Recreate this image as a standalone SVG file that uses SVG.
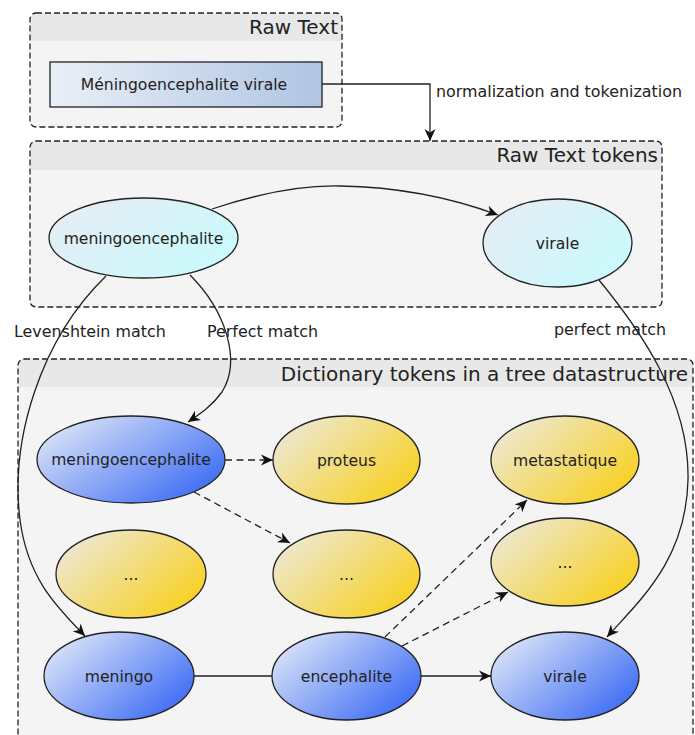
<svg xmlns="http://www.w3.org/2000/svg" width="695" height="735" viewBox="0 0 695 735">
<defs>
<style>
text{font-family:"DejaVu Sans","Liberation Sans",sans-serif;fill:#222;}
.lbl{font-size:15.9px;}
.ttl{font-size:20px;text-anchor:end;}
.nt{font-size:15.6px;text-anchor:middle;}
.box{fill:#f4f4f4;stroke:none;}
.hdr{fill:#e8e8e8;stroke:none;}
.frame{fill:none;stroke:#222;stroke-width:1.3;stroke-dasharray:6,3;}
.node{stroke:#222;stroke-width:1.3;}
.c{fill:none;stroke:#222;stroke-width:1.3;}
.d{fill:none;stroke:#222;stroke-width:1.3;stroke-dasharray:7,4.5;}
</style>
<marker id="ah" viewBox="-12 -6 13 12" refX="0" refY="0" markerWidth="13" markerHeight="12" markerUnits="userSpaceOnUse" orient="auto">
<path d="M0,0 L-12,-5.5 L-8.5,0 L-12,5.5 Z" fill="#111"/>
</marker>
<linearGradient id="gBox" x1="0" y1="0" x2="1" y2="0">
<stop offset="0" stop-color="#e9eff7"/><stop offset="1" stop-color="#b0c5e3"/>
</linearGradient>
<linearGradient id="gCyan" x1="0" y1="0.2" x2="1" y2="0.8">
<stop offset="0" stop-color="#e6ecf5"/><stop offset="1" stop-color="#c8fbfd"/>
</linearGradient>
<linearGradient id="gBlue" x1="0" y1="0.15" x2="1" y2="0.85">
<stop offset="0" stop-color="#e0e8f8"/><stop offset="1" stop-color="#3566f4"/>
</linearGradient>
<linearGradient id="gYel" x1="0" y1="0.15" x2="1" y2="0.85">
<stop offset="0" stop-color="#ece9da"/><stop offset="1" stop-color="#f9cf16"/>
</linearGradient>
</defs>

<g id="rawtext">
<rect class="box" x="30" y="13" width="312" height="114" rx="6"/>
<path class="hdr" d="M36,13 H336 A6,6 0 0 1 342,19 V41 H30 V19 A6,6 0 0 1 36,13 Z"/>
<rect class="frame" x="30" y="13" width="312" height="114" rx="6"/>
<text class="ttl" x="338" y="34">Raw Text</text>
</g>
<g id="rawtextbox">
<rect x="50" y="62" width="272" height="45" fill="url(#gBox)" stroke="#222" stroke-width="1.3"/>
<text class="nt" x="184" y="90">Méningoencephalite virale</text>
</g>

<g id="rawtokens">
<rect class="box" x="30" y="141" width="632" height="166" rx="6"/>
<path class="hdr" d="M36,141 H656 A6,6 0 0 1 662,147 V170 H30 V147 A6,6 0 0 1 36,141 Z"/>
<rect class="frame" x="30" y="141" width="632" height="166" rx="6"/>
<text class="ttl" x="658" y="162">Raw Text tokens</text>
</g>

<g id="dict">
<rect class="box" x="18" y="359" width="675" height="420" rx="6"/>
<path class="hdr" d="M24,359 H687 A6,6 0 0 1 693,365 V387 H18 V365 A6,6 0 0 1 24,359 Z"/>
<rect class="frame" x="18" y="359" width="675" height="420" rx="6"/>
<text class="ttl" x="688" y="381">Dictionary tokens in a tree datastructure</text>
</g>

<g id="tok-meningoencephalite">
<ellipse class="node" cx="143.5" cy="238" rx="94.5" ry="40" fill="url(#gCyan)"/>
<text class="nt" x="143.5" y="244">meningoencephalite</text>
</g>
<g id="tok-virale">
<ellipse class="node" cx="557.5" cy="243" rx="74.5" ry="44" fill="url(#gCyan)"/>
<text class="nt" x="557.5" y="249">virale</text>
</g>

<g id="d-meningoencephalite">
<ellipse class="node" cx="131" cy="459.5" rx="94" ry="43.5" fill="url(#gBlue)"/>
<text class="nt" x="131" y="465">meningoencephalite</text>
</g>
<g id="d-proteus">
<ellipse class="node" cx="346.5" cy="460" rx="73.5" ry="44" fill="url(#gYel)"/>
<text class="nt" x="346.5" y="466">proteus</text>
</g>
<g id="d-metastatique">
<ellipse class="node" cx="565" cy="460" rx="74" ry="44" fill="url(#gYel)"/>
<text class="nt" x="565" y="466">metastatique</text>
</g>
<g id="d-dots1">
<ellipse class="node" cx="131" cy="574" rx="75" ry="44" fill="url(#gYel)"/>
<text class="nt" x="131" y="580">...</text>
</g>
<g id="d-dots2">
<ellipse class="node" cx="346.5" cy="574" rx="73.5" ry="44" fill="url(#gYel)"/>
<text class="nt" x="346.5" y="580">...</text>
</g>
<g id="d-dots3">
<ellipse class="node" cx="565" cy="562" rx="74" ry="44" fill="url(#gYel)"/>
<text class="nt" x="565" y="568">...</text>
</g>
<g id="d-meningo">
<ellipse class="node" cx="119" cy="676" rx="75" ry="44" fill="url(#gBlue)"/>
<text class="nt" x="119" y="682">meningo</text>
</g>
<g id="d-encephalite">
<ellipse class="node" cx="346.5" cy="676" rx="74.5" ry="44" fill="url(#gBlue)"/>
<text class="nt" x="346.5" y="682">encephalite</text>
</g>
<g id="d-virale">
<ellipse class="node" cx="565" cy="676" rx="74" ry="44" fill="url(#gBlue)"/>
<text class="nt" x="565" y="682">virale</text>
</g>

<g id="connectors">
<path class="c" d="M322,84 H430 V141" marker-end="url(#ah)"/>
<path class="c" d="M212,209 C260,193 300,185 340,186 C400,187 455,199 498,215" marker-end="url(#ah)"/>
<path class="c" d="M106,276 C40,340 10,440 20,520 C28,580 58,608 85,636" marker-end="url(#ah)"/>
<path class="c" d="M190,275 C225,310 242,360 222,392 C212,406 200,414 188,422" marker-end="url(#ah)"/>
<path class="c" d="M599,280 C640,330 690,400 688,480 C686,560 640,600 607,637" marker-end="url(#ah)"/>
<path class="d" d="M225,460 H273" marker-end="url(#ah)"/>
<path class="d" d="M194,492 L290,543" marker-end="url(#ah)"/>
<path class="d" d="M385,637 L527,500" marker-end="url(#ah)"/>
<path class="d" d="M402,646 L508,592" marker-end="url(#ah)"/>
<path class="c" d="M194,676 H272"/>
<path class="c" d="M421,676 H491" marker-end="url(#ah)"/>
</g>

<g id="labels">
<text class="lbl" x="436" y="97">normalization and tokenization</text>
<text class="lbl" x="14" y="337">Levenshtein match</text>
<text class="lbl" x="207" y="337">Perfect match</text>
<text class="lbl" x="554" y="335">perfect match</text>
</g>
</svg>
